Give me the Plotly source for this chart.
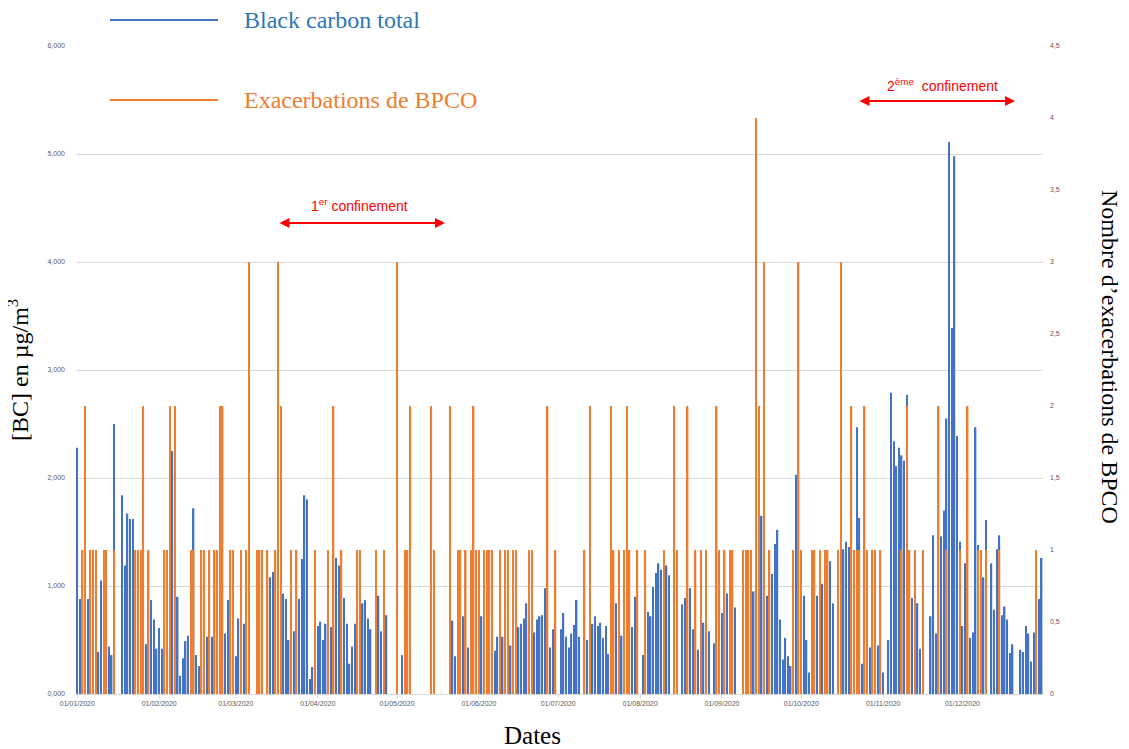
import pandas as pd
import plotly.graph_objects as go

# ---------------- data (daily, 2020) ----------------
# Black carbon total, µg/m³ (None = no measurement)
bc_jan = [2.28, 0.88, None, None, 0.88, None, None, None, 0.39, 1.05, None, None, 0.44, 0.36, 2.50, None,
          None, 1.84, 1.19, 1.67, 1.62, 1.62, None, None, None, None, 0.46, None, 0.87, 0.69, 0.42]
bc_feb = [0.61, 0.42, None, None, None, 2.25, None, 0.90, 0.17, 0.33, 0.49, 0.54, None, 1.72, 0.36, 0.26,
          None, None, 0.53, None, 0.53, None, None, None, None, 0.56, 0.87, None, None]
bc_mar = [0.35, 0.70, None, 0.65, None, None, None, None, None, None, None, None, None, 1.08, 1.13, None,
          None, None, 0.93, 0.88, 0.50, None, 0.58, None, 0.88, 1.25, 1.84, 1.80, 0.14, 0.25, None]
bc_apr = [0.63, 0.67, 0.50, 0.65, None, 0.62, None, 1.26, 1.19, None, 0.89, 0.65, 0.28, 0.44, 0.65, None,
          None, 0.84, 0.87, 0.70, 0.60, None, None, 0.91, 0.58, None, 0.73, None, None, None]
bc_may = [None, None, 0.36, None, None, None, None, None, None, None, None, None, None, None, None, None,
          None, None, None, None, None, 0.68, 0.35, None, None, 0.72, None, 0.43, None, None, None]
bc_jun = [None, 0.72, None, None, None, None, 0.40, 0.53, None, 0.53, None, None, 0.45, None, None, 0.62,
          0.65, 0.70, 0.84, None, None, 0.57, 0.69, 0.72, 0.73, 0.98, None, 0.43, 0.60, None]
bc_jul = [None, 0.60, 0.75, 0.53, 0.43, 0.56, 0.64, 0.87, 0.53, None, None, 0.50, None, 0.65, 0.72, 0.63,
          0.66, 0.52, 0.63, 0.37, None, None, 0.84, None, 0.54, None, None, None, 0.62, 0.90, None]
bc_aug = [None, 0.36, None, 0.76, 0.72, 0.99, 1.12, 1.21, 1.15, None, 1.19, 1.10, None, None, None, None,
          0.83, 0.89, None, 0.98, 0.60, None, 0.41, None, 0.66, None, 0.58, None, 0.47, None, None]
bc_sep = [0.75, None, 0.93, None, None, 0.80, None, None, None, None, None, None, 0.95, None, None, 1.65,
          None, 0.91, None, 1.11, 1.39, 1.52, 0.69, 0.32, 0.52, 0.35, 0.26, None, 2.03, None]
bc_oct = [None, 0.91, 0.50, 0.20, None, None, 0.91, None, 1.02, None, None, 1.23, 0.84, None, None, None,
          1.34, 1.41, 1.36, None, None, 2.47, 1.63, 0.28, None, None, 0.43, None, None, 0.45, None]
bc_nov = [0.20, None, 0.50, 2.79, 2.34, 2.11, 2.28, 2.21, 2.16, 2.77, None, 0.89, None, 0.84, 0.42, None,
          None, None, 0.72, 1.47, 0.56, None, 1.46, 1.70, 2.55, 5.11, 3.39, 4.98, 2.39, 1.41]
bc_dec = [0.63, 1.21, None, 0.52, 0.57, 2.47, 1.38, None, 1.08, 1.61, None, 1.21, 0.78, 1.34, 1.47, 0.73,
          0.81, 0.69, 0.38, 0.46, None, None, 0.41, 0.39, 0.63, 0.56, 0.30, 0.57, None, 0.88, 1.26]

# Number of COPD exacerbations per day
exa_jan = [0, 0, 1, 2, 0, 1, 1, 1, 0, 0, 1, 1, 0, 0, 1, 0, 0, 0, 0, 0, 0, 0, 1, 1, 1, 2, 0, 1, 0, 0, 0]
exa_feb = [0, 0, 1, 1, 2, 0, 2, 0, 0, 0, 0, 0, 1, 1, 0, 0, 1, 1, 0, 1, 0, 1, 1, 2, 2, 0, 0, 1, 1]
exa_mar = [0, 0, 1, 0, 1, 3, 0, 0, 1, 1, 1, 0, 1, 0, 0, 1, 3, 2, 0, 0, 0, 1, 0, 1, 0, 0, 0, 0, 0, 0, 1]
exa_apr = [0, 0, 0, 0, 1, 0, 2, 0, 0, 1, 0, 0, 0, 0, 0, 1, 1, 0, 0, 0, 0, 0, 1, 0, 0, 1, 0, 0, 0, 0]
exa_may = [3, 0, 0, 1, 1, 2, 0, 0, 0, 0, 0, 0, 0, 2, 1, 0, 0, 0, 0, 0, 2, 0, 0, 1, 1, 0, 1, 0, 1, 2, 1]
exa_jun = [1, 0, 1, 1, 1, 1, 0, 0, 1, 0, 1, 1, 0, 1, 1, 0, 0, 0, 0, 1, 1, 0, 0, 0, 0, 0, 2, 0, 0, 1]
exa_jul = [0, 0, 0, 0, 0, 0, 0, 0, 0, 0, 1, 0, 2, 0, 0, 0, 0, 0, 0, 0, 2, 1, 0, 1, 0, 1, 2, 1, 0, 0, 1]
exa_aug = [0, 0, 1, 0, 0, 0, 0, 0, 0, 1, 0, 0, 0, 2, 1, 0, 0, 0, 2, 0, 0, 1, 0, 1, 0, 1, 0, 0, 0, 2, 1]
exa_sep = [0, 1, 0, 1, 1, 0, 0, 0, 1, 1, 1, 1, 0, 4, 2, 0, 3, 0, 1, 0, 0, 0, 0, 0, 0, 0, 0, 1, 0, 3]
exa_oct = [1, 0, 0, 0, 1, 1, 0, 1, 0, 1, 1, 0, 0, 0, 1, 3, 0, 0, 0, 2, 1, 1, 1, 0, 2, 1, 0, 1, 1, 0, 1]
exa_nov = [0, 0, 0, 0, 0, 0, 0, 1, 0, 2, 1, 0, 1, 0, 0, 1, 0, 0, 0, 0, 0, 2, 0, 0, 1, 0, 0, 0, 0, 1]
exa_dec = [0, 0, 2, 0, 0, 0, 1, 1, 0, 1, 0, 0, 0, 0, 1, 0, 0, 0, 0, 0, 0, 0, 0, 0, 0, 0, 0, 0, 1, 0, 0]

month_tick_labels = ["01/01/2020", "01/02/2020", "01/03/2020", "01/04/2020", "01/05/2020", "01/06/2020",
                     "01/07/2020", "01/08/2020", "01/09/2020", "01/10/2020", "01/11/2020", "01/12/2020"]

series_names = ["Black carbon total", "Exacerbations de BPCO"]

# ---------------- build ----------------
bc = (bc_jan + bc_feb + bc_mar + bc_apr + bc_may + bc_jun + bc_jul + bc_aug + bc_sep + bc_oct
      + bc_nov + bc_dec)
exa = (exa_jan + exa_feb + exa_mar + exa_apr + exa_may + exa_jun + exa_jul + exa_aug + exa_sep
       + exa_oct + exa_nov + exa_dec)
dates = pd.date_range("2020-01-01", periods=len(bc), freq="D")
tickvals = pd.to_datetime(month_tick_labels, format="%d/%m/%Y")

BLUE = "#4472C4"
ORANGE = "#ED7D31"
DAY_MS = 86400000
SERIF = "Liberation Serif, Times New Roman, serif"
SANS = "Liberation Sans, Arial, sans-serif"

fig = go.Figure()
fig.add_bar(x=dates, y=bc, name=series_names[0], marker=dict(color=BLUE, line=dict(width=0)),
            width=0.55 * DAY_MS, yaxis="y")
fig.add_bar(x=dates, y=exa, name=series_names[1], marker=dict(color=ORANGE, line=dict(width=0)),
            width=0.55 * DAY_MS, yaxis="y2")

# target screen geometry (page has an 8px body margin)
OFF = 8
L, R, T, B = 76, 1043, 46, 694
W, H = 1129, 749
PW, PH = R - L, B - T


def px(x):
    return (x - L) / PW


def py(y):
    return (B - y) / PH


fig.update_layout(
    width=W - OFF, height=H - OFF,
    margin=dict(l=L - OFF, r=W - R, t=T - OFF, b=H - B, pad=0),
    paper_bgcolor="white", plot_bgcolor="white",
    barmode="overlay",
    showlegend=False,
    separators=", ",
    xaxis=dict(
        type="date",
        range=["2019-12-31 12:00", "2020-12-31 12:00"],
        tickvals=tickvals, ticktext=month_tick_labels,
        tickfont=dict(family=SANS, size=7, color="#595959"),
        showgrid=False, showline=True, linecolor="#d9d9d9", linewidth=1,
        ticks="outside", ticklen=3, tickcolor="#d9d9d9",
        zeroline=False,
    ),
    yaxis=dict(
        range=[0, 6], dtick=1, tickformat=".3f",
        tickfont=dict(family=SANS, size=7, color="#595959"),
        showgrid=True, gridcolor="#d9d9d9", gridwidth=1,
        zeroline=False, showline=False, ticks="", ticklabelstandoff=10,
    ),
    yaxis2=dict(
        range=[0, 4.5], dtick=0.5, overlaying="y", side="right",
        tickfont=dict(family=SANS, size=7, color="#595959"),
        showgrid=False, zeroline=False, showline=False, ticks="", ticklabelstandoff=6,
    ),
)

# axis titles
fig.add_annotation(text="[BC] en µg/m<sup>3</sup>", xref="paper", yref="paper", x=px(18), y=py(370),
                   textangle=-90, showarrow=False, font=dict(family=SERIF, size=24, color="black"),
                   xanchor="center", yanchor="middle")
fig.add_annotation(text="Nombre d’exacerbations de BPCO", xref="paper", yref="paper", x=px(1110), y=py(357),
                   textangle=90, showarrow=False, font=dict(family=SERIF, size=24, color="black"),
                   xanchor="center", yanchor="middle")
fig.add_annotation(text="Dates", xref="paper", yref="paper", x=px(532), y=py(735),
                   showarrow=False, font=dict(family=SERIF, size=25, color="black"),
                   xanchor="center", yanchor="middle")

# custom legend
for name, color, yy in [(series_names[0], BLUE, 20), (series_names[1], ORANGE, 100)]:
    fig.add_shape(type="line", xref="paper", yref="paper", x0=px(110), x1=px(218), y0=py(yy), y1=py(yy),
                  line=dict(color=color, width=2))
    fig.add_annotation(text=name, xref="paper", yref="paper", x=px(242), y=py(yy), showarrow=False,
                       xanchor="left", yanchor="middle",
                       font=dict(family=SERIF, size=24, color="#2E75B6" if color == BLUE else ORANGE))

# lockdown annotations
for label, x0, x1, ya, xt, yt in [("1<sup>er</sup> confinement", 278, 445, 223, 359, 205),
                                  ("2<sup>ème</sup>  confinement", 858, 1015, 101, 942, 85)]:
    fig.add_annotation(text="", xref="paper", yref="paper", x=px(x1), y=py(ya),
                       ax=-(x1 - x0), ay=0, axref="pixel", ayref="pixel",
                       showarrow=True, arrowhead=2, startarrowhead=2, arrowside="end+start",
                       arrowsize=1, startarrowsize=1, arrowwidth=2, arrowcolor="#FF0000")
    fig.add_annotation(text=label, xref="paper", yref="paper", x=px(xt), y=py(yt),
                       showarrow=False, xanchor="center", yanchor="middle",
                       font=dict(family=SANS, size=14, color="#FF0000"))

fig.write_html("out.html")
